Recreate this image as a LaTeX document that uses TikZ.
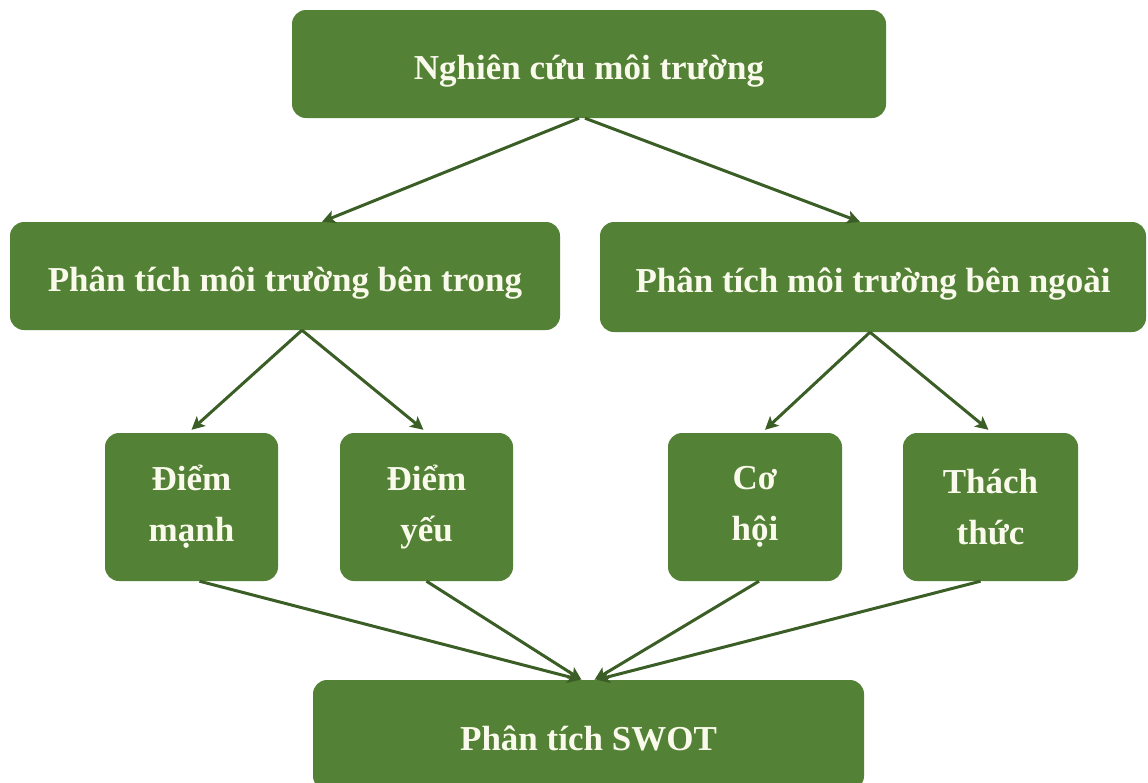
\documentclass[tikz,border=0pt]{standalone}
\usepackage{fontspec}
\setmainfont{Liberation Serif}
\usetikzlibrary{arrows.meta,calc}
\definecolor{boxgreen}{HTML}{538135}
\definecolor{arrowgreen}{HTML}{3B5E26}
\definecolor{txtcream}{HTML}{FAFAEC}
\tikzset{
  gbox/.style={fill=boxgreen, draw=none, rounded corners=14pt, text=txtcream,
    font=\fontsize{35}{51}\selectfont\bfseries, align=center, inner sep=0pt},
  oneline/.style={text height=36pt, text depth=6pt},
  conn/.style={draw=arrowgreen, line width=3pt, -{Stealth[length=13pt,width=13pt,inset=3pt]}}
}
\begin{document}
\begin{tikzpicture}[x=1pt,y=-1pt]
\useasboundingbox (0,0) rectangle (1148,782);
\node[gbox, oneline, minimum width=594pt, minimum height=108pt] (top) at (589,64) {Nghiên cứu môi trường};
\node[gbox, oneline, minimum width=550pt, minimum height=108pt] (lmid) at (285,276) {Phân tích môi trường bên trong};
\node[gbox, oneline, minimum width=546pt, minimum height=110pt] (rmid) at (873,277) {Phân tích môi trường bên ngoài};
\node[gbox, minimum width=173pt, minimum height=148pt] (dm) at (191.5,507) {Điểm\\mạnh};
\node[gbox, minimum width=173pt, minimum height=148pt] (dy) at (426.5,507) {Điểm\\yếu};
\node[gbox, minimum width=174pt, minimum height=148pt] (ch) at (755,507) {Cơ\\hội};
\node[gbox, minimum width=175pt, minimum height=148pt] (tt) at (990.5,507) {Thách\\thức};
\node[gbox, oneline, minimum width=551pt, minimum height=110pt] (swot) at (588.5,735) {Phân tích SWOT};
\draw[conn] ($(top.south)+(-10,0)$) -- ($(lmid.north)+(37,0)$);
\draw[conn] ($(top.south)+(-4,0)$) -- ($(rmid.north)+(-13,0)$);
\draw[conn] ($(lmid.south)+(17,0)$) -- ($(dm.north)+(0,-3)$);
\draw[conn] ($(lmid.south)+(17,0)$) -- ($(dy.north)+(-3,-3)$);
\draw[conn] ($(rmid.south)+(-3,0)$) -- ($(ch.north)+(10,-3)$);
\draw[conn] ($(rmid.south)+(-3,0)$) -- ($(tt.north)+(-2,-3)$);
\draw[conn] ($(dm.south)+(8,0)$) -- ($(swot.north)+(-8,0)$);
\draw[conn] (dy.south) -- ($(swot.north)+(-7,0)$);
\draw[conn] ($(ch.south)+(4,0)$) -- ($(swot.north)+(6,0)$);
\draw[conn] ($(tt.south)+(-10,0)$) -- ($(swot.north)+(8,0)$);
\end{tikzpicture}
\end{document}
